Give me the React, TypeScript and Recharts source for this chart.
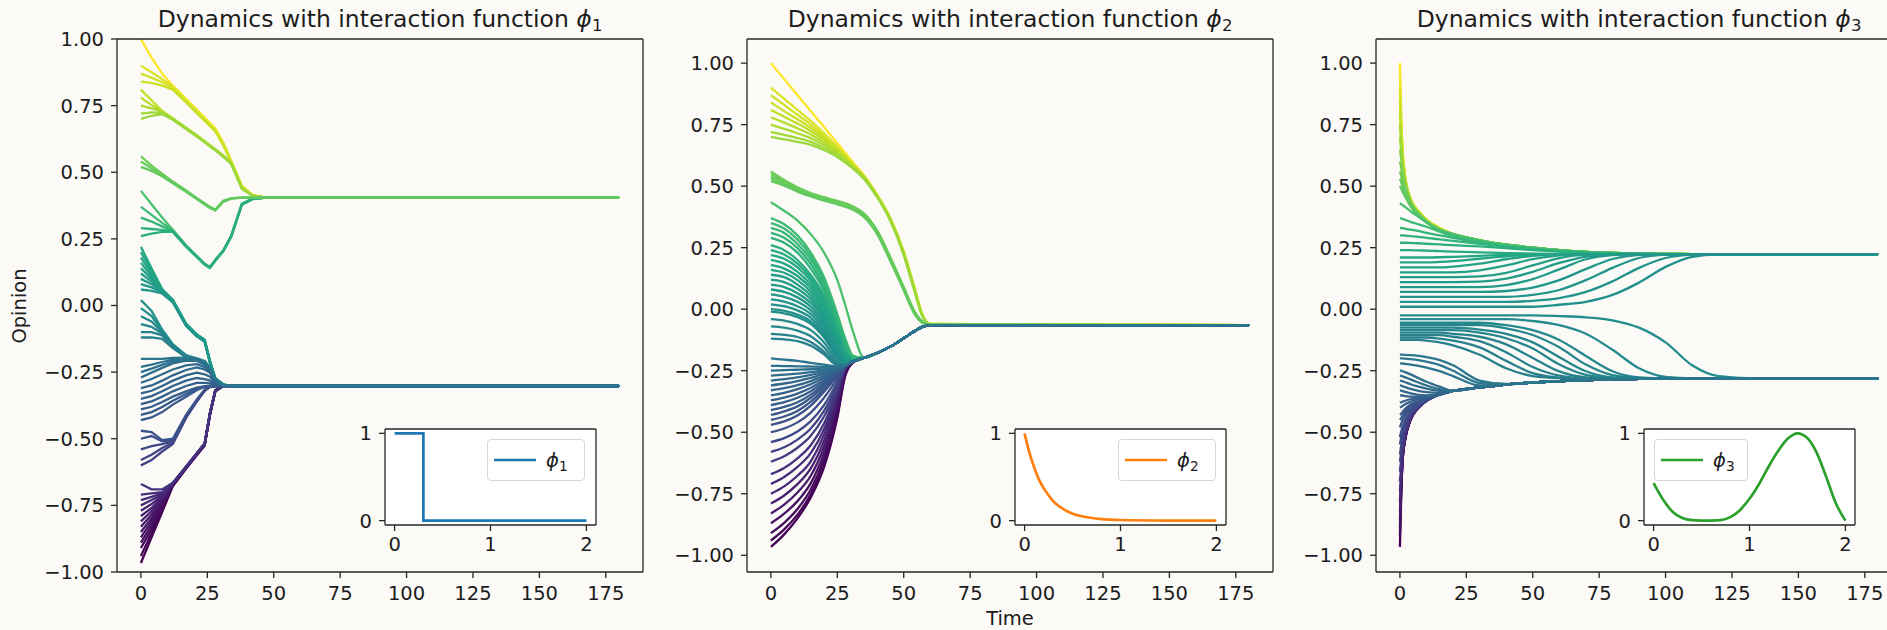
import React from "react";
import { LineChart, Line, XAxis, YAxis, CartesianGrid, Legend, ReferenceLine } from "recharts";

const FONT = "'DejaVu Sans', 'Liberation Sans', sans-serif";
const INK = "#1c1c1c";
const PAPER = "#fbfaf6";

// matplotlib viridis, 11 stops
const VIRIDIS = ["#440154", "#482475", "#414487", "#355f8d", "#2a788e", "#21918c", "#22a884", "#44bf70", "#7ad151", "#bddf26", "#fde725"];
const COLOUR_MIN = -0.966;
const COLOUR_MAX = 1.0;

const OPINION_TICKS = [-1, -0.75, -0.5, -0.25, 0, 0.25, 0.5, 0.75, 1];
const TIME_TICKS = [0, 25, 50, 75, 100, 125, 150, 175];
const TIME_DOMAIN = [-9, 189];

// ---- panel 1 : phi_1 (bounded confidence) ----
const p1Times = [0, 4, 8, 12, 17, 21, 24, 26, 28, 31, 34, 38, 42, 47, 180];
const p1Lines = [
  [1.0, 0.93, 0.87, 0.825, 0.775, 0.735, 0.705, 0.685, 0.665, 0.612, 0.542, 0.45, 0.415, 0.405, 0.405],
  [0.9, 0.875, 0.85, 0.82, 0.77, 0.73, 0.7, 0.68, 0.66, 0.608, 0.54, 0.448, 0.414, 0.405, 0.405],
  [0.87, 0.855, 0.838, 0.815, 0.766, 0.726, 0.697, 0.677, 0.657, 0.605, 0.538, 0.446, 0.413, 0.405, 0.405],
  [0.84, 0.835, 0.825, 0.81, 0.762, 0.722, 0.693, 0.673, 0.653, 0.602, 0.536, 0.444, 0.412, 0.405, 0.405],
  [0.81, 0.77, 0.73, 0.703, 0.667, 0.639, 0.617, 0.602, 0.587, 0.563, 0.535, 0.442, 0.413, 0.405, 0.405],
  [0.78, 0.752, 0.727, 0.701, 0.666, 0.638, 0.616, 0.601, 0.586, 0.562, 0.534, 0.441, 0.413, 0.405, 0.405],
  [0.75, 0.74, 0.725, 0.7, 0.665, 0.637, 0.615, 0.6, 0.585, 0.561, 0.533, 0.44, 0.412, 0.405, 0.405],
  [0.72, 0.725, 0.722, 0.699, 0.664, 0.636, 0.614, 0.599, 0.584, 0.56, 0.532, 0.439, 0.412, 0.405, 0.405],
  [0.7, 0.712, 0.718, 0.697, 0.662, 0.634, 0.612, 0.597, 0.582, 0.558, 0.531, 0.438, 0.411, 0.405, 0.405],
  [0.43, 0.38, 0.33, 0.284, 0.226, 0.186, 0.157, 0.145, 0.172, 0.207, 0.262, 0.382, 0.401, 0.405, 0.405],
  [0.37, 0.34, 0.31, 0.282, 0.224, 0.185, 0.156, 0.144, 0.171, 0.206, 0.261, 0.381, 0.4, 0.405, 0.405],
  [0.33, 0.315, 0.297, 0.28, 0.223, 0.184, 0.155, 0.143, 0.17, 0.205, 0.26, 0.38, 0.4, 0.405, 0.405],
  [0.29, 0.287, 0.284, 0.278, 0.222, 0.183, 0.154, 0.142, 0.169, 0.204, 0.259, 0.379, 0.4, 0.405, 0.405],
  [0.26, 0.27, 0.276, 0.276, 0.221, 0.182, 0.153, 0.141, 0.168, 0.203, 0.258, 0.378, 0.399, 0.405, 0.405],
  [0.56, 0.525, 0.495, 0.465, 0.432, 0.404, 0.384, 0.37, 0.36, 0.393, 0.403, 0.405, 0.405, 0.405, 0.405],
  [0.54, 0.515, 0.49, 0.462, 0.43, 0.402, 0.382, 0.368, 0.358, 0.391, 0.402, 0.405, 0.405, 0.405, 0.405],
  [0.52, 0.505, 0.485, 0.459, 0.427, 0.399, 0.379, 0.366, 0.356, 0.389, 0.401, 0.405, 0.405, 0.405, 0.405],
  [-0.966, -0.87, -0.775, -0.678, -0.612, -0.562, -0.525, -0.41, -0.322, -0.301, -0.302, -0.302, -0.302, -0.302, -0.302],
  [-0.94, -0.855, -0.765, -0.676, -0.611, -0.561, -0.524, -0.409, -0.322, -0.301, -0.302, -0.302, -0.302, -0.302, -0.302],
  [-0.91, -0.84, -0.755, -0.674, -0.61, -0.56, -0.523, -0.408, -0.321, -0.301, -0.302, -0.302, -0.302, -0.302, -0.302],
  [-0.89, -0.825, -0.748, -0.673, -0.609, -0.559, -0.522, -0.407, -0.321, -0.301, -0.302, -0.302, -0.302, -0.302, -0.302],
  [-0.87, -0.81, -0.742, -0.672, -0.609, -0.559, -0.522, -0.407, -0.321, -0.301, -0.302, -0.302, -0.302, -0.302, -0.302],
  [-0.85, -0.798, -0.736, -0.671, -0.608, -0.558, -0.521, -0.406, -0.32, -0.301, -0.302, -0.302, -0.302, -0.302, -0.302],
  [-0.83, -0.785, -0.73, -0.67, -0.608, -0.558, -0.521, -0.406, -0.32, -0.301, -0.302, -0.302, -0.302, -0.302, -0.302],
  [-0.81, -0.772, -0.725, -0.669, -0.607, -0.557, -0.52, -0.405, -0.32, -0.301, -0.302, -0.302, -0.302, -0.302, -0.302],
  [-0.79, -0.76, -0.72, -0.669, -0.607, -0.557, -0.52, -0.405, -0.32, -0.3, -0.302, -0.302, -0.302, -0.302, -0.302],
  [-0.77, -0.745, -0.715, -0.668, -0.606, -0.556, -0.519, -0.404, -0.319, -0.3, -0.302, -0.302, -0.302, -0.302, -0.302],
  [-0.75, -0.73, -0.71, -0.668, -0.606, -0.556, -0.519, -0.404, -0.319, -0.3, -0.302, -0.302, -0.302, -0.302, -0.302],
  [-0.73, -0.718, -0.705, -0.667, -0.605, -0.555, -0.518, -0.403, -0.319, -0.3, -0.302, -0.302, -0.302, -0.302, -0.302],
  [-0.71, -0.705, -0.7, -0.667, -0.605, -0.555, -0.518, -0.403, -0.319, -0.3, -0.302, -0.302, -0.302, -0.302, -0.302],
  [-0.67, -0.69, -0.69, -0.665, -0.604, -0.554, -0.517, -0.402, -0.318, -0.3, -0.302, -0.302, -0.302, -0.302, -0.302],
  [-0.6, -0.58, -0.548, -0.52, -0.422, -0.361, -0.32, -0.305, -0.302, -0.302, -0.302, -0.302, -0.302, -0.302, -0.302],
  [-0.58, -0.56, -0.535, -0.515, -0.419, -0.359, -0.319, -0.305, -0.302, -0.302, -0.302, -0.302, -0.302, -0.302, -0.302],
  [-0.54, -0.528, -0.52, -0.51, -0.416, -0.357, -0.318, -0.304, -0.302, -0.302, -0.302, -0.302, -0.302, -0.302, -0.302],
  [-0.5, -0.49, -0.51, -0.505, -0.413, -0.355, -0.317, -0.304, -0.302, -0.302, -0.302, -0.302, -0.302, -0.302, -0.302],
  [-0.47, -0.475, -0.505, -0.5, -0.41, -0.353, -0.316, -0.303, -0.302, -0.302, -0.302, -0.302, -0.302, -0.302, -0.302],
  [0.22, 0.14, 0.062, 0.022, -0.068, -0.108, -0.128, -0.208, -0.273, -0.296, -0.302, -0.302, -0.302, -0.302, -0.302],
  [0.2, 0.13, 0.06, 0.021, -0.069, -0.109, -0.129, -0.209, -0.273, -0.296, -0.302, -0.302, -0.302, -0.302, -0.302],
  [0.18, 0.12, 0.058, 0.02, -0.07, -0.11, -0.13, -0.21, -0.274, -0.297, -0.302, -0.302, -0.302, -0.302, -0.302],
  [0.16, 0.11, 0.056, 0.019, -0.071, -0.111, -0.131, -0.211, -0.274, -0.297, -0.302, -0.302, -0.302, -0.302, -0.302],
  [0.14, 0.1, 0.054, 0.018, -0.072, -0.112, -0.132, -0.212, -0.275, -0.297, -0.302, -0.302, -0.302, -0.302, -0.302],
  [0.12, 0.09, 0.052, 0.016, -0.073, -0.113, -0.133, -0.213, -0.275, -0.297, -0.302, -0.302, -0.302, -0.302, -0.302],
  [0.1, 0.08, 0.05, 0.015, -0.074, -0.114, -0.134, -0.214, -0.276, -0.298, -0.302, -0.302, -0.302, -0.302, -0.302],
  [0.08, 0.068, 0.048, 0.013, -0.075, -0.115, -0.135, -0.215, -0.276, -0.298, -0.302, -0.302, -0.302, -0.302, -0.302],
  [0.06, 0.055, 0.045, 0.012, -0.076, -0.116, -0.136, -0.216, -0.277, -0.298, -0.302, -0.302, -0.302, -0.302, -0.302],
  [0.02, -0.02, -0.09, -0.145, -0.186, -0.198, -0.208, -0.233, -0.274, -0.298, -0.302, -0.302, -0.302, -0.302, -0.302],
  [-0.01, -0.04, -0.095, -0.148, -0.188, -0.199, -0.209, -0.234, -0.275, -0.298, -0.302, -0.302, -0.302, -0.302, -0.302],
  [-0.04, -0.06, -0.1, -0.15, -0.19, -0.2, -0.21, -0.235, -0.275, -0.298, -0.302, -0.302, -0.302, -0.302, -0.302],
  [-0.07, -0.08, -0.105, -0.152, -0.191, -0.201, -0.211, -0.236, -0.276, -0.299, -0.302, -0.302, -0.302, -0.302, -0.302],
  [-0.1, -0.1, -0.112, -0.155, -0.193, -0.202, -0.212, -0.237, -0.276, -0.299, -0.302, -0.302, -0.302, -0.302, -0.302],
  [-0.12, -0.12, -0.125, -0.16, -0.195, -0.203, -0.213, -0.238, -0.277, -0.299, -0.302, -0.302, -0.302, -0.302, -0.302],
  [-0.43, -0.42, -0.4, -0.372, -0.342, -0.318, -0.305, -0.302, -0.302, -0.302, -0.302, -0.302, -0.302, -0.302, -0.302],
  [-0.41, -0.4, -0.381, -0.357, -0.332, -0.313, -0.304, -0.302, -0.302, -0.302, -0.302, -0.302, -0.302, -0.302, -0.302],
  [-0.39, -0.38, -0.362, -0.342, -0.322, -0.308, -0.303, -0.302, -0.302, -0.302, -0.302, -0.302, -0.302, -0.302, -0.302],
  [-0.37, -0.36, -0.342, -0.322, -0.302, -0.29, -0.29, -0.292, -0.298, -0.302, -0.302, -0.302, -0.302, -0.302, -0.302],
  [-0.35, -0.34, -0.322, -0.302, -0.282, -0.272, -0.276, -0.282, -0.295, -0.301, -0.302, -0.302, -0.302, -0.302, -0.302],
  [-0.33, -0.32, -0.302, -0.282, -0.262, -0.252, -0.258, -0.267, -0.29, -0.301, -0.302, -0.302, -0.302, -0.302, -0.302],
  [-0.31, -0.3, -0.282, -0.262, -0.242, -0.232, -0.24, -0.252, -0.285, -0.3, -0.302, -0.302, -0.302, -0.302, -0.302],
  [-0.29, -0.276, -0.258, -0.24, -0.225, -0.22, -0.231, -0.247, -0.283, -0.3, -0.302, -0.302, -0.302, -0.302, -0.302],
  [-0.27, -0.252, -0.234, -0.217, -0.207, -0.208, -0.222, -0.242, -0.28, -0.3, -0.302, -0.302, -0.302, -0.302, -0.302],
  [-0.25, -0.237, -0.223, -0.21, -0.203, -0.205, -0.218, -0.24, -0.279, -0.3, -0.302, -0.302, -0.302, -0.302, -0.302],
  [-0.23, -0.222, -0.212, -0.203, -0.2, -0.203, -0.214, -0.237, -0.277, -0.299, -0.302, -0.302, -0.302, -0.302, -0.302],
  [-0.2, -0.2, -0.2, -0.197, -0.196, -0.2, -0.212, -0.236, -0.276, -0.299, -0.302, -0.302, -0.302, -0.302, -0.302],
];

// ---- panel 2 : phi_2 (exponential decay) ----
const p2Times = [0, 5, 10, 15, 20, 25, 28, 31, 35, 40, 45, 50, 54, 57, 60, 180];
const p2Tail = [-0.198, -0.178, -0.152, -0.118, -0.09, -0.072, -0.065, -0.065];
const p2Lines = [
  [-0.966, -0.915, -0.85, -0.765, -0.642, -0.44, -0.27, -0.216, ...p2Tail],
  [-0.94, -0.895, -0.835, -0.752, -0.627, -0.432, -0.265, -0.215, ...p2Tail],
  [-0.91, -0.868, -0.812, -0.733, -0.608, -0.418, -0.26, -0.215, ...p2Tail],
  [-0.87, -0.831, -0.78, -0.707, -0.585, -0.4, -0.255, -0.214, ...p2Tail],
  [-0.83, -0.794, -0.745, -0.677, -0.56, -0.38, -0.25, -0.214, ...p2Tail],
  [-0.79, -0.757, -0.711, -0.647, -0.535, -0.365, -0.245, -0.213, ...p2Tail],
  [-0.75, -0.72, -0.677, -0.618, -0.51, -0.35, -0.24, -0.213, ...p2Tail],
  [-0.71, -0.682, -0.641, -0.585, -0.488, -0.34, -0.238, -0.213, ...p2Tail],
  [-0.67, -0.645, -0.606, -0.553, -0.465, -0.33, -0.237, -0.212, ...p2Tail],
  [-0.62, -0.598, -0.563, -0.514, -0.436, -0.318, -0.236, -0.212, ...p2Tail],
  [-0.58, -0.561, -0.53, -0.485, -0.413, -0.308, -0.235, -0.212, ...p2Tail],
  [-0.54, -0.524, -0.497, -0.455, -0.39, -0.297, -0.234, -0.212, ...p2Tail],
  [-0.5, -0.485, -0.46, -0.42, -0.36, -0.283, -0.233, -0.212, ...p2Tail],
  [-0.47, -0.456, -0.432, -0.392, -0.335, -0.272, -0.232, -0.212, ...p2Tail],
  [1.0, 0.935, 0.87, 0.805, 0.74, 0.675, 0.635, 0.595, 0.545, 0.465, 0.37, 0.235, 0.09, -0.02, -0.06, -0.065],
  [0.9, 0.855, 0.81, 0.765, 0.715, 0.66, 0.625, 0.59, 0.542, 0.463, 0.368, 0.233, 0.088, -0.021, -0.06, -0.065],
  [0.87, 0.83, 0.79, 0.75, 0.705, 0.655, 0.62, 0.587, 0.54, 0.462, 0.367, 0.232, 0.087, -0.022, -0.06, -0.065],
  [0.84, 0.805, 0.772, 0.737, 0.697, 0.65, 0.617, 0.585, 0.539, 0.461, 0.366, 0.23, 0.085, -0.023, -0.061, -0.065],
  [0.81, 0.782, 0.754, 0.724, 0.688, 0.644, 0.613, 0.582, 0.537, 0.46, 0.365, 0.228, 0.083, -0.024, -0.061, -0.065],
  [0.78, 0.758, 0.735, 0.71, 0.678, 0.638, 0.609, 0.579, 0.535, 0.459, 0.364, 0.226, 0.081, -0.025, -0.061, -0.065],
  [0.75, 0.733, 0.715, 0.695, 0.667, 0.631, 0.604, 0.576, 0.533, 0.458, 0.362, 0.224, 0.079, -0.026, -0.062, -0.065],
  [0.72, 0.708, 0.695, 0.68, 0.656, 0.624, 0.599, 0.573, 0.531, 0.456, 0.36, 0.222, 0.077, -0.027, -0.062, -0.065],
  [0.7, 0.69, 0.68, 0.668, 0.647, 0.618, 0.595, 0.57, 0.529, 0.455, 0.358, 0.22, 0.075, -0.028, -0.062, -0.065],
  [0.56, 0.525, 0.495, 0.472, 0.455, 0.44, 0.43, 0.417, 0.39, 0.32, 0.21, 0.09, -0.008, -0.05, -0.063, -0.065],
  [0.55, 0.52, 0.491, 0.469, 0.452, 0.437, 0.427, 0.414, 0.386, 0.316, 0.206, 0.086, -0.01, -0.051, -0.063, -0.065],
  [0.54, 0.515, 0.488, 0.466, 0.449, 0.434, 0.424, 0.411, 0.383, 0.313, 0.202, 0.083, -0.013, -0.053, -0.063, -0.065],
  [0.53, 0.508, 0.483, 0.462, 0.445, 0.43, 0.42, 0.407, 0.379, 0.309, 0.198, 0.08, -0.015, -0.054, -0.064, -0.065],
  [0.52, 0.502, 0.478, 0.458, 0.441, 0.426, 0.416, 0.403, 0.375, 0.305, 0.195, 0.077, -0.018, -0.055, -0.064, -0.065],
  [0.435, 0.4, 0.36, 0.305, 0.23, 0.118, 0.016, -0.094, -0.196, -0.178, -0.152, -0.118, -0.09, -0.072, -0.065, -0.065],
  [0.37, 0.345, 0.3, 0.23, 0.13, -0.02, -0.12, -0.19, ...p2Tail],
  [0.35, 0.328, 0.283, 0.215, 0.118, -0.03, -0.13, -0.195, ...p2Tail],
  [0.33, 0.31, 0.265, 0.2, 0.105, -0.04, -0.14, -0.2, ...p2Tail],
  [0.31, 0.29, 0.248, 0.183, 0.09, -0.05, -0.148, -0.203, ...p2Tail],
  [0.29, 0.27, 0.23, 0.165, 0.075, -0.06, -0.155, -0.205, ...p2Tail],
  [0.26, 0.24, 0.2, 0.14, 0.055, -0.075, -0.165, -0.207, ...p2Tail],
  [0.24, 0.222, 0.185, 0.128, 0.043, -0.083, -0.17, -0.208, ...p2Tail],
  [0.22, 0.205, 0.17, 0.115, 0.03, -0.09, -0.175, -0.209, ...p2Tail],
  [0.2, 0.185, 0.152, 0.1, 0.018, -0.1, -0.18, -0.21, ...p2Tail],
  [0.18, 0.165, 0.135, 0.085, 0.005, -0.11, -0.185, -0.21, ...p2Tail],
  [0.16, 0.148, 0.118, 0.07, -0.008, -0.118, -0.19, -0.21, ...p2Tail],
  [0.14, 0.13, 0.1, 0.055, -0.02, -0.125, -0.195, -0.211, ...p2Tail],
  [0.12, 0.11, 0.083, 0.04, -0.033, -0.133, -0.2, -0.211, ...p2Tail],
  [0.1, 0.09, 0.065, 0.025, -0.045, -0.14, -0.205, -0.212, ...p2Tail],
  [0.08, 0.07, 0.048, 0.01, -0.058, -0.15, -0.21, -0.212, ...p2Tail],
  [0.06, 0.05, 0.03, -0.005, -0.07, -0.16, -0.215, -0.212, ...p2Tail],
  [0.04, 0.031, 0.012, -0.02, -0.083, -0.17, -0.219, -0.212, ...p2Tail],
  [0.02, 0.012, -0.005, -0.035, -0.095, -0.18, -0.222, -0.212, ...p2Tail],
  [0.0, -0.007, -0.022, -0.05, -0.107, -0.19, -0.225, -0.212, ...p2Tail],
  [-0.01, -0.017, -0.032, -0.06, -0.115, -0.195, -0.226, -0.212, ...p2Tail],
  [-0.04, -0.046, -0.06, -0.085, -0.135, -0.207, -0.228, -0.212, ...p2Tail],
  [-0.07, -0.075, -0.087, -0.11, -0.155, -0.216, -0.228, -0.212, ...p2Tail],
  [-0.1, -0.104, -0.113, -0.133, -0.172, -0.223, -0.228, -0.212, ...p2Tail],
  [-0.12, -0.123, -0.13, -0.148, -0.183, -0.227, -0.228, -0.212, ...p2Tail],
  [-0.45, -0.436, -0.414, -0.376, -0.324, -0.267, -0.232, -0.212, ...p2Tail],
  [-0.43, -0.415, -0.395, -0.36, -0.312, -0.262, -0.232, -0.212, ...p2Tail],
  [-0.41, -0.397, -0.378, -0.347, -0.305, -0.259, -0.232, -0.212, ...p2Tail],
  [-0.39, -0.378, -0.36, -0.333, -0.297, -0.256, -0.231, -0.212, ...p2Tail],
  [-0.37, -0.359, -0.343, -0.319, -0.289, -0.253, -0.231, -0.212, ...p2Tail],
  [-0.35, -0.34, -0.325, -0.305, -0.28, -0.25, -0.231, -0.212, ...p2Tail],
  [-0.33, -0.321, -0.309, -0.292, -0.271, -0.248, -0.23, -0.212, ...p2Tail],
  [-0.31, -0.302, -0.292, -0.279, -0.262, -0.245, -0.23, -0.212, ...p2Tail],
  [-0.29, -0.284, -0.277, -0.267, -0.255, -0.242, -0.229, -0.212, ...p2Tail],
  [-0.27, -0.266, -0.262, -0.256, -0.249, -0.24, -0.229, -0.212, ...p2Tail],
  [-0.25, -0.248, -0.246, -0.244, -0.241, -0.237, -0.229, -0.212, ...p2Tail],
  [-0.23, -0.231, -0.232, -0.233, -0.234, -0.234, -0.228, -0.212, ...p2Tail],
  [-0.2, -0.205, -0.21, -0.218, -0.225, -0.232, -0.228, -0.212, ...p2Tail],
];

// ---- panel 3 : phi_3 (heterophilous bump) ----
const p3Times = [0, 0.5, 1, 2, 4, 7, 10, 15, 20, 30, 40, 50, 60, 70, 80, 90, 100, 110, 120, 135, 180];
const p3UpperTail = [0.305, 0.28, 0.262, 0.25, 0.24, 0.233, 0.229, 0.226, 0.225, 0.224, 0.224, 0.224, 0.224];
const p3LowerTail = [-0.332, -0.318, -0.306, -0.298, -0.292, -0.288, -0.285, -0.283, -0.282, -0.281, -0.281, -0.281, -0.281];
const p3Lines = [
  [1.0, 0.78, 0.65, 0.54, 0.45, 0.4, 0.365, 0.33, ...p3UpperTail],
  [0.95, 0.765, 0.645, 0.538, 0.449, 0.399, 0.364, 0.33, ...p3UpperTail],
  [0.9, 0.75, 0.64, 0.535, 0.448, 0.398, 0.363, 0.329, ...p3UpperTail],
  [0.85, 0.72, 0.63, 0.532, 0.446, 0.396, 0.362, 0.328, ...p3UpperTail],
  [0.8, 0.69, 0.615, 0.528, 0.444, 0.395, 0.361, 0.327, ...p3UpperTail],
  [0.75, 0.665, 0.6, 0.522, 0.442, 0.393, 0.36, 0.326, ...p3UpperTail],
  [0.7, 0.64, 0.585, 0.515, 0.44, 0.392, 0.359, 0.325, ...p3UpperTail],
  [0.65, 0.61, 0.565, 0.505, 0.437, 0.39, 0.358, 0.325, ...p3UpperTail],
  [0.6, 0.575, 0.545, 0.497, 0.435, 0.389, 0.357, 0.324, ...p3UpperTail],
  [0.56, 0.54, 0.52, 0.487, 0.432, 0.388, 0.357, 0.324, ...p3UpperTail],
  [0.53, 0.515, 0.5, 0.472, 0.425, 0.385, 0.355, 0.322, ...p3UpperTail],
  [0.5, 0.49, 0.478, 0.457, 0.418, 0.381, 0.352, 0.32, ...p3UpperTail],
  [0.43, 0.427, 0.423, 0.415, 0.398, 0.375, 0.352, 0.322, ...p3UpperTail],
  [0.37, 0.369, 0.367, 0.363, 0.355, 0.345, 0.335, 0.315, 0.296, 0.274, 0.257, 0.245, 0.237, 0.23, 0.227, 0.225, 0.224, 0.224, 0.224, 0.224, 0.224],
  [0.33, 0.33, 0.329, 0.327, 0.323, 0.318, 0.31, 0.3, 0.29, 0.272, 0.256, 0.245, 0.236, 0.23, 0.227, 0.225, 0.224, 0.224, 0.224, 0.224, 0.224],
  [0.3, 0.3, 0.3, 0.299, 0.297, 0.294, 0.29, 0.284, 0.278, 0.266, 0.254, 0.244, 0.236, 0.23, 0.227, 0.225, 0.224, 0.224, 0.224, 0.224, 0.224],
  [0.27, 0.27, 0.27, 0.27, 0.269, 0.268, 0.266, 0.263, 0.26, 0.255, 0.248, 0.24, 0.234, 0.229, 0.226, 0.225, 0.224, 0.224, 0.224, 0.224, 0.224],
  [-0.966, -0.75, -0.62, -0.53, -0.45, -0.4, -0.372, -0.345, ...p3LowerTail],
  [-0.92, -0.74, -0.615, -0.528, -0.45, -0.4, -0.372, -0.345, ...p3LowerTail],
  [-0.89, -0.73, -0.613, -0.527, -0.45, -0.4, -0.372, -0.345, ...p3LowerTail],
  [-0.86, -0.72, -0.61, -0.525, -0.449, -0.4, -0.372, -0.345, ...p3LowerTail],
  [-0.82, -0.705, -0.605, -0.523, -0.448, -0.4, -0.372, -0.345, ...p3LowerTail],
  [-0.78, -0.69, -0.6, -0.52, -0.447, -0.4, -0.372, -0.345, ...p3LowerTail],
  [-0.74, -0.665, -0.59, -0.515, -0.445, -0.4, -0.372, -0.345, ...p3LowerTail],
  [-0.7, -0.64, -0.58, -0.51, -0.443, -0.399, -0.372, -0.345, ...p3LowerTail],
  [-0.66, -0.61, -0.56, -0.5, -0.44, -0.398, -0.371, -0.346, ...p3LowerTail],
  [-0.62, -0.58, -0.54, -0.49, -0.435, -0.397, -0.371, -0.346, ...p3LowerTail],
  [-0.59, -0.555, -0.52, -0.478, -0.43, -0.395, -0.37, -0.346, ...p3LowerTail],
  [-0.55, -0.52, -0.495, -0.462, -0.42, -0.392, -0.37, -0.346, ...p3LowerTail],
  [-0.52, -0.497, -0.478, -0.45, -0.414, -0.389, -0.369, -0.346, ...p3LowerTail],
  [-0.48, -0.465, -0.452, -0.43, -0.404, -0.383, -0.367, -0.347, ...p3LowerTail],
  [-0.45, -0.443, -0.434, -0.418, -0.395, -0.377, -0.364, -0.347, ...p3LowerTail],
  [-0.43, -0.425, -0.418, -0.405, -0.387, -0.372, -0.362, -0.347, ...p3LowerTail],
  [-0.4, -0.397, -0.393, -0.386, -0.376, -0.366, -0.359, -0.347, ...p3LowerTail],
  [-0.38, -0.378, -0.376, -0.372, -0.366, -0.36, -0.356, -0.346, ...p3LowerTail],
  [-0.35, -0.35, -0.351, -0.353, -0.355, -0.356, -0.355, -0.347, ...p3LowerTail],
  [-0.33, -0.331, -0.333, -0.336, -0.342, -0.348, -0.35, -0.345, ...p3LowerTail],
  [-0.31, -0.311, -0.313, -0.317, -0.324, -0.332, -0.337, -0.34, ...p3LowerTail],
  [-0.29, -0.291, -0.293, -0.297, -0.305, -0.315, -0.323, -0.332, ...p3LowerTail],
  [-0.27, -0.271, -0.273, -0.277, -0.285, -0.298, -0.31, -0.325, ...p3LowerTail],
  [-0.25, -0.25, -0.252, -0.256, -0.265, -0.28, -0.295, -0.315, ...p3LowerTail],
  [0.24, 0.24, 0.24, 0.24, 0.24, 0.239, 0.238, 0.236, 0.234, 0.231, 0.228, 0.226, 0.225, 0.224, 0.224, 0.224, 0.224, 0.224, 0.224, 0.224, 0.224],
  [0.21, 0.21, 0.21, 0.21, 0.21, 0.21, 0.21, 0.211, 0.213, 0.217, 0.221, 0.223, 0.224, 0.224, 0.224, 0.224, 0.224, 0.224, 0.224, 0.224, 0.224],
  [0.19, 0.19, 0.19, 0.19, 0.19, 0.19, 0.19, 0.192, 0.195, 0.205, 0.215, 0.221, 0.224, 0.224, 0.224, 0.224, 0.224, 0.224, 0.224, 0.224, 0.224],
  [0.17, 0.17, 0.17, 0.17, 0.17, 0.17, 0.17, 0.17, 0.173, 0.185, 0.203, 0.217, 0.223, 0.224, 0.224, 0.224, 0.224, 0.224, 0.224, 0.224, 0.224],
  [0.15, 0.15, 0.15, 0.15, 0.15, 0.15, 0.15, 0.15, 0.15, 0.158, 0.178, 0.203, 0.219, 0.224, 0.224, 0.224, 0.224, 0.224, 0.224, 0.224, 0.224],
  [0.13, 0.13, 0.13, 0.13, 0.13, 0.13, 0.13, 0.13, 0.13, 0.133, 0.148, 0.178, 0.208, 0.222, 0.224, 0.224, 0.224, 0.224, 0.224, 0.224, 0.224],
  [0.11, 0.11, 0.11, 0.11, 0.11, 0.11, 0.11, 0.11, 0.11, 0.112, 0.124, 0.152, 0.188, 0.214, 0.223, 0.224, 0.224, 0.224, 0.224, 0.224, 0.224],
  [0.09, 0.09, 0.09, 0.09, 0.09, 0.09, 0.09, 0.09, 0.09, 0.09, 0.098, 0.122, 0.162, 0.203, 0.22, 0.224, 0.224, 0.224, 0.224, 0.224, 0.224],
  [0.07, 0.07, 0.07, 0.07, 0.07, 0.07, 0.07, 0.07, 0.07, 0.07, 0.074, 0.088, 0.118, 0.163, 0.204, 0.221, 0.224, 0.224, 0.224, 0.224, 0.224],
  [0.05, 0.05, 0.05, 0.05, 0.05, 0.05, 0.05, 0.05, 0.05, 0.05, 0.05, 0.058, 0.078, 0.118, 0.168, 0.208, 0.222, 0.224, 0.224, 0.224, 0.224],
  [0.03, 0.03, 0.03, 0.03, 0.03, 0.03, 0.03, 0.03, 0.03, 0.03, 0.03, 0.034, 0.045, 0.07, 0.113, 0.168, 0.208, 0.222, 0.224, 0.224, 0.224],
  [0.01, 0.01, 0.01, 0.01, 0.01, 0.01, 0.01, 0.01, 0.01, 0.01, 0.01, 0.01, 0.018, 0.03, 0.058, 0.108, 0.172, 0.213, 0.223, 0.224, 0.224],
  [-0.025, -0.025, -0.025, -0.025, -0.025, -0.025, -0.025, -0.025, -0.025, -0.025, -0.025, -0.025, -0.028, -0.033, -0.045, -0.075, -0.135, -0.228, -0.272, -0.281, -0.281],
  [-0.04, -0.04, -0.04, -0.04, -0.04, -0.04, -0.04, -0.04, -0.04, -0.04, -0.04, -0.048, -0.065, -0.1, -0.165, -0.24, -0.275, -0.281, -0.281, -0.281, -0.281],
  [-0.055, -0.055, -0.055, -0.055, -0.055, -0.055, -0.055, -0.055, -0.055, -0.055, -0.065, -0.085, -0.125, -0.19, -0.252, -0.277, -0.281, -0.281, -0.281, -0.281, -0.281],
  [-0.065, -0.065, -0.065, -0.065, -0.065, -0.065, -0.065, -0.065, -0.065, -0.065, -0.078, -0.105, -0.155, -0.225, -0.268, -0.28, -0.281, -0.281, -0.281, -0.281, -0.281],
  [-0.075, -0.075, -0.075, -0.075, -0.075, -0.075, -0.075, -0.075, -0.075, -0.083, -0.1, -0.135, -0.195, -0.252, -0.277, -0.281, -0.281, -0.281, -0.281, -0.281, -0.281],
  [-0.085, -0.085, -0.085, -0.085, -0.085, -0.085, -0.085, -0.085, -0.085, -0.095, -0.118, -0.16, -0.225, -0.267, -0.28, -0.281, -0.281, -0.281, -0.281, -0.281, -0.281],
  [-0.095, -0.095, -0.095, -0.095, -0.095, -0.095, -0.095, -0.095, -0.1, -0.112, -0.143, -0.198, -0.253, -0.277, -0.281, -0.281, -0.281, -0.281, -0.281, -0.281, -0.281],
  [-0.105, -0.105, -0.105, -0.105, -0.105, -0.105, -0.105, -0.105, -0.112, -0.13, -0.175, -0.235, -0.27, -0.28, -0.281, -0.281, -0.281, -0.281, -0.281, -0.281, -0.281],
  [-0.115, -0.115, -0.115, -0.115, -0.115, -0.115, -0.115, -0.12, -0.128, -0.155, -0.21, -0.26, -0.278, -0.281, -0.281, -0.281, -0.281, -0.281, -0.281, -0.281, -0.281],
  [-0.125, -0.125, -0.125, -0.125, -0.125, -0.125, -0.128, -0.135, -0.147, -0.185, -0.24, -0.272, -0.28, -0.281, -0.281, -0.281, -0.281, -0.281, -0.281, -0.281, -0.281],
  [-0.22, -0.22, -0.221, -0.222, -0.225, -0.23, -0.237, -0.252, -0.272, -0.31, -0.306, -0.298, -0.292, -0.288, -0.285, -0.283, -0.282, -0.281, -0.281, -0.281, -0.281],
  [-0.2, -0.2, -0.2, -0.201, -0.203, -0.207, -0.213, -0.227, -0.25, -0.3, -0.305, -0.298, -0.292, -0.288, -0.285, -0.283, -0.282, -0.281, -0.281, -0.281, -0.281],
  [-0.185, -0.185, -0.185, -0.186, -0.187, -0.19, -0.195, -0.207, -0.228, -0.29, -0.304, -0.298, -0.292, -0.288, -0.285, -0.283, -0.282, -0.281, -0.281, -0.281, -0.281],
];

// ---- inset interaction functions ----
const phi1R = [0, 0.3, 0.3, 2];
const phi1Y = [1, 1, 0, 0];
const phi2R = [0, 0.05, 0.1, 0.15, 0.2, 0.25, 0.3, 0.4, 0.5, 0.6, 0.8, 1.0, 1.5, 2.0];
const phi2Y = [1, 0.78, 0.61, 0.47, 0.37, 0.29, 0.22, 0.135, 0.08, 0.05, 0.018, 0.007, 0.001, 0];
const phi3R = [0, 0.1, 0.2, 0.3, 0.4, 0.5, 0.6, 0.7, 0.8, 0.9, 1.0, 1.1, 1.2, 1.3, 1.4, 1.5, 1.6, 1.7, 1.8, 1.9, 2.0];
const phi3Y = [0.43, 0.24, 0.1, 0.03, 0.005, 0, 0, 0.005, 0.04, 0.12, 0.25, 0.42, 0.62, 0.8, 0.94, 1.0, 0.95, 0.78, 0.5, 0.2, 0.0];

// layout (page pixels)
const PLOT_W = 526;
const PLOT_TOP = 39;
const PLOT_H = 533;
const Y_AXIS_W = 80;
const X_AXIS_H = 40;
const INSET_DX = 268;
const INSET_TOP = 429;
const INSET_W = 211;
const INSET_H = 96;
const INSET_Y_W = 40;
const INSET_X_H = 36;
const INSET_PAD = 14;
const TICK_PX = 19.5;

const frameLine = { stroke: "#262626", strokeWidth: 1.3 };
const tickFont = { fill: INK, fontSize: TICK_PX, fontFamily: FONT };

function hexRgb(h: string) {
  return [1, 3, 5].map((i) => parseInt(h.slice(i, i + 2), 16));
}

function lineColour(x0: number) {
  const s = Math.max(0, Math.min(1, (x0 - COLOUR_MIN) / (COLOUR_MAX - COLOUR_MIN)));
  const f = s * (VIRIDIS.length - 1);
  const i = Math.min(VIRIDIS.length - 2, Math.floor(f));
  const a = hexRgb(VIRIDIS[i]);
  const b = hexRgb(VIRIDIS[i + 1]);
  const k = f - i;
  return `rgb(${a.map((c, j) => Math.round(c + (b[j] - c) * k)).join(",")})`;
}

const opinionLabel = (v: number) => (v < 0 ? "\u2212" : "") + Math.abs(v).toFixed(2);

function MainPanel({ left, times, lines, yDomain, curve }: any) {
  const series = lines.map((vals: number[]) => vals.map((v, i) => ({ t: times[i], v })));
  return (
    <div style={{ position: "absolute", left: left - Y_AXIS_W, top: 0 }}>
      <LineChart
        width={Y_AXIS_W + PLOT_W + 2}
        height={630}
        margin={{ top: PLOT_TOP, right: 2, left: 0, bottom: 630 - PLOT_TOP - PLOT_H - X_AXIS_H }}
      >
        <XAxis
          type="number"
          dataKey="t"
          domain={TIME_DOMAIN}
          ticks={TIME_TICKS}
          interval={0}
          allowDataOverflow
          height={X_AXIS_H}
          tick={tickFont}
          tickSize={6}
          tickMargin={8}
          tickLine={frameLine}
          axisLine={frameLine}
        />
        <YAxis
          type="number"
          domain={yDomain}
          ticks={OPINION_TICKS}
          interval={0}
          allowDataOverflow
          width={Y_AXIS_W}
          tick={tickFont}
          tickFormatter={opinionLabel}
          tickSize={6}
          tickMargin={7}
          tickLine={frameLine}
          axisLine={frameLine}
        />
        {series.map((d: any[], i: number) => (
          <Line
            key={i}
            data={d}
            dataKey="v"
            type={curve}
            stroke={lineColour(lines[i][0])}
            strokeWidth={2.3}
            dot={false}
            activeDot={false}
            isAnimationActive={false}
          />
        ))}
        <ReferenceLine y={yDomain[1]} ifOverflow="visible" {...frameLine} />
        <ReferenceLine x={TIME_DOMAIN[1]} ifOverflow="visible" {...frameLine} />
      </LineChart>
    </div>
  );
}

function PhiLabel({ n, size }: { n: string; size: number }) {
  return (
    <span style={{ fontFamily: FONT, fontSize: size, color: INK, whiteSpace: "nowrap" }}>
      <span style={{ fontStyle: "italic" }}>ϕ</span>
      <span style={{ fontSize: size * 0.7, position: "relative", top: size * 0.22 }}>{n}</span>
    </span>
  );
}

function Inset({ left, r, y, colour, n, curve, legendX }: any) {
  const data = r.map((x: number, i: number) => ({ r: x, y: y[i] }));
  const legendW = n === "3" ? 94 : 98;
  return (
    <div style={{ position: "absolute", left: left - INSET_Y_W, top: INSET_TOP - INSET_PAD }}>
      <LineChart
        width={INSET_Y_W + INSET_W + 2}
        height={INSET_PAD + INSET_H + INSET_X_H}
        data={data}
        margin={{ top: INSET_PAD, right: 2, left: 0, bottom: 0 }}
      >
        <CartesianGrid fill="#ffffff" horizontal={false} vertical={false} stroke="none" />
        <XAxis
          type="number"
          dataKey="r"
          domain={[-0.1, 2.1]}
          ticks={[0, 1, 2]}
          interval={0}
          height={INSET_X_H}
          tick={tickFont}
          tickSize={6}
          tickMargin={6}
          tickLine={frameLine}
          axisLine={frameLine}
        />
        <YAxis
          type="number"
          domain={[-0.05, 1.05]}
          ticks={[0, 1]}
          interval={0}
          width={INSET_Y_W}
          tick={tickFont}
          tickSize={6}
          tickMargin={7}
          tickLine={frameLine}
          axisLine={frameLine}
        />
        <Legend
          layout="horizontal"
          align="center"
          verticalAlign="middle"
          wrapperStyle={{ left: INSET_Y_W + legendX, top: INSET_PAD + 10, width: legendW, height: 42 }}
          content={() => (
            <div
              style={{
                boxSizing: "border-box",
                width: legendW,
                height: 42,
                border: "1px solid #d6d6d6",
                borderRadius: 4,
                background: "rgba(255,255,255,0.85)",
                display: "flex",
                alignItems: "center",
              }}
            >
              <svg width={58} height={42} style={{ flex: "none" }}>
                <line x1={6} x2={48} y1={21} y2={21} stroke={colour} strokeWidth={2.7} />
              </svg>
              <PhiLabel n={n} size={TICK_PX} />
            </div>
          )}
        />
        <Line type={curve} dataKey="y" stroke={colour} strokeWidth={2.7} dot={false} activeDot={false} isAnimationActive={false} />
        <ReferenceLine y={1.05} ifOverflow="visible" {...frameLine} />
        <ReferenceLine x={2.1} ifOverflow="visible" {...frameLine} />
      </LineChart>
    </div>
  );
}

const PANELS = [
  { left: 117, times: p1Times, lines: p1Lines, yDomain: [-1, 1], curve: "linear", n: "1" },
  { left: 747, times: p2Times, lines: p2Lines, yDomain: [-1.068, 1.098], curve: "monotone", n: "2" },
  { left: 1376, times: p3Times, lines: p3Lines, yDomain: [-1.068, 1.098], curve: "monotone", n: "3" },
];

const INSETS = [
  { r: phi1R, y: phi1Y, colour: "#1f77b4", curve: "linear", legendX: 102 },
  { r: phi2R, y: phi2Y, colour: "#ff7f0e", curve: "monotone", legendX: 103 },
  { r: phi3R, y: phi3Y, colour: "#2ca02c", curve: "monotone", legendX: 10 },
];

export default function App() {
  return (
    <div
      style={{
        position: "absolute",
        left: 0,
        top: 0,
        width: 1887,
        height: 630,
        overflow: "hidden",
        background: PAPER,
        fontFamily: FONT,
      }}
    >
      {PANELS.map((p, i) => (
        <MainPanel key={i} {...p} />
      ))}
      {PANELS.map((p, i) => (
        <Inset key={i} left={p.left + INSET_DX} n={p.n} {...INSETS[i]} />
      ))}
      <svg width={1887} height={630} style={{ position: "absolute", left: 0, top: 0, pointerEvents: "none" }}>
        {PANELS.map((p, i) => (
          <text key={i} x={p.left + PLOT_W / 2} y={27} textAnchor="middle" fontFamily={FONT} fontSize={23.5} fill={INK}>
            Dynamics with interaction function{" "}
            <tspan fontStyle="italic">ϕ</tspan>
            <tspan fontSize={16.5} dy={4}>{p.n}</tspan>
          </text>
        ))}
        <text x={26} y={306} transform="rotate(-90 26 306)" textAnchor="middle" fontFamily={FONT} fontSize={TICK_PX} fill={INK}>
          Opinion
        </text>
        <text x={747 + PLOT_W / 2} y={625} textAnchor="middle" fontFamily={FONT} fontSize={TICK_PX} fill={INK}>
          Time
        </text>
      </svg>
    </div>
  );
}
